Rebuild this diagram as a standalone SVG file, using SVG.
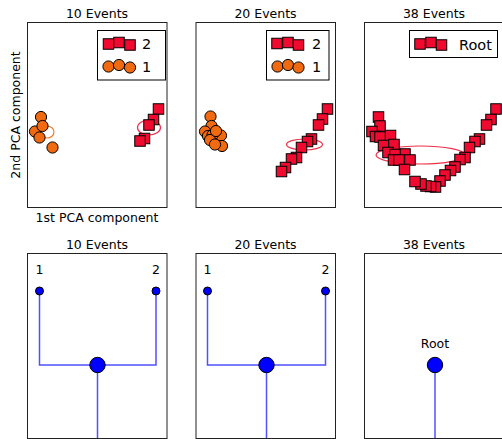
<svg xmlns="http://www.w3.org/2000/svg" xmlns:xlink="http://www.w3.org/1999/xlink" width="502" height="439" viewBox="0 0 502 439">
<style>
text{font-family:"DejaVu Sans","Liberation Sans",sans-serif;fill:#000}
.t{font-size:12.5px;text-anchor:middle}
.lg{font-size:14.5px}
.frame{fill:none;stroke:#222;stroke-width:1}
.box{fill:#fff;stroke:#000;stroke-width:1}
.sqr{fill:#f00a30;stroke:#000;stroke-width:1}
.cir{fill:#ef6a10;stroke:#000;stroke-width:1}
.eo{fill:none;stroke:#f07a2a;stroke-width:1.2}
.er{fill:none;stroke:#f0304a;stroke-width:1.2}
.edge{fill:none;stroke:#5050ff;stroke-width:1.5}
.nd{fill:#0000ff;stroke:#000;stroke-width:1}
</style>
<defs>
<rect id="sq" class="sqr" x="-5.25" y="-5.25" width="10.5" height="10.5"/>
<circle id="ci" class="cir" r="5.6"/>
</defs>
<rect width="502" height="439" fill="#fff"/>

<!-- Top row: PCA scatter panels -->
<g id="pca10">
<text class="t" x="97" y="17.5">10 Events</text>
<rect class="frame" x="27.5" y="22.5" width="139.5" height="185"/>
<ellipse class="eo" cx="47" cy="132" rx="7" ry="6"/>
<use href="#ci" x="41" y="117"/>
<use href="#ci" x="35" y="131.5"/>
<use href="#ci" x="42.5" y="126"/>
<use href="#ci" x="39.5" y="137.5"/>
<use href="#ci" x="52.5" y="147.5"/>
<ellipse class="er" cx="149" cy="127.5" rx="11.5" ry="7.5"/>
<use href="#sq" x="158.5" y="109"/>
<use href="#sq" x="153.5" y="119.5"/>
<use href="#sq" x="149" y="125"/>
<use href="#sq" x="144.5" y="138.5"/>
<use href="#sq" x="140" y="141"/>
<rect class="box" x="97.5" y="30.5" width="68" height="49.5"/>
<use href="#sq" x="108.5" y="44"/>
<use href="#sq" x="119" y="42.5"/>
<use href="#sq" x="130" y="45"/>
<text class="lg" x="142" y="49">2</text>
<use href="#ci" x="108.5" y="66.5"/>
<use href="#ci" x="119" y="65"/>
<use href="#ci" x="130" y="67.5"/>
<text class="lg" x="142" y="71.5">1</text>
<text class="t" x="97" y="222">1st PCA component</text>
<text class="t" transform="translate(20 115) rotate(-90)">2nd PCA component</text>
</g>

<g id="pca20">
<text class="t" x="265.5" y="17.5">20 Events</text>
<rect class="frame" x="196" y="22.5" width="139.5" height="185"/>
<ellipse class="eo" cx="214" cy="131" rx="7" ry="6"/>
<use href="#ci" x="210.5" y="116.5"/>
<use href="#ci" x="211.5" y="126"/>
<use href="#ci" x="205" y="131.5"/>
<use href="#ci" x="208" y="136"/>
<use href="#ci" x="221" y="135.5"/>
<use href="#ci" x="212.5" y="135"/>
<use href="#ci" x="210" y="140"/>
<use href="#ci" x="216" y="131"/>
<use href="#ci" x="222" y="146"/>
<use href="#ci" x="215" y="144.5"/>
<ellipse class="er" cx="304.5" cy="144.5" rx="18" ry="5.5"/>
<use href="#sq" x="327.5" y="109"/>
<use href="#sq" x="322.5" y="119"/>
<use href="#sq" x="318.5" y="125"/>
<use href="#sq" x="311.5" y="139"/>
<use href="#sq" x="307.5" y="141.5"/>
<use href="#sq" x="301.5" y="147.5"/>
<use href="#sq" x="296.5" y="157.5"/>
<use href="#sq" x="291.5" y="159"/>
<use href="#sq" x="285.5" y="167.5"/>
<use href="#sq" x="281.5" y="171.5"/>
<rect class="box" x="266.5" y="30.5" width="62.5" height="49.5"/>
<use href="#sq" x="277" y="43.5"/>
<use href="#sq" x="288" y="42.5"/>
<use href="#sq" x="298.5" y="45"/>
<text class="lg" x="312" y="49">2</text>
<use href="#ci" x="277.5" y="66.5"/>
<use href="#ci" x="288" y="65"/>
<use href="#ci" x="298.5" y="67.5"/>
<text class="lg" x="312" y="71.5">1</text>
</g>

<g id="pca38">
<text class="t" x="434" y="17.5">38 Events</text>
<rect class="frame" x="364.5" y="22.5" width="139.5" height="185"/>
<ellipse class="er" cx="420.5" cy="155" rx="44.5" ry="9"/>
<use href="#sq" x="496" y="109"/>
<use href="#sq" x="491" y="119.5"/>
<use href="#sq" x="486.5" y="125"/>
<use href="#sq" x="479.5" y="139"/>
<use href="#sq" x="475" y="141.5"/>
<use href="#sq" x="469.5" y="147.5"/>
<use href="#sq" x="465" y="157.5"/>
<use href="#sq" x="460" y="159.5"/>
<use href="#sq" x="455" y="167"/>
<use href="#sq" x="450.5" y="170.5"/>
<use href="#sq" x="445" y="175"/>
<use href="#sq" x="440" y="181"/>
<use href="#sq" x="378.5" y="117"/>
<use href="#sq" x="380" y="126"/>
<use href="#sq" x="372" y="131.5"/>
<use href="#sq" x="375.5" y="136.5"/>
<use href="#sq" x="390.5" y="135.5"/>
<use href="#sq" x="380" y="137"/>
<use href="#sq" x="383.5" y="145.5"/>
<use href="#sq" x="394" y="144.5"/>
<use href="#sq" x="388" y="152.5"/>
<use href="#sq" x="405" y="154"/>
<use href="#sq" x="395" y="154.5"/>
<use href="#sq" x="393.5" y="160"/>
<use href="#sq" x="399" y="160"/>
<use href="#sq" x="410" y="160"/>
<use href="#sq" x="404.5" y="169.5"/>
<use href="#sq" x="435.5" y="187"/>
<use href="#sq" x="430.5" y="186.5"/>
<use href="#sq" x="426" y="186"/>
<use href="#sq" x="421" y="184"/>
<use href="#sq" x="415" y="181.5"/>
<rect class="box" x="409.5" y="30.5" width="88" height="27"/>
<use href="#sq" x="420" y="44"/>
<use href="#sq" x="431" y="42.5"/>
<use href="#sq" x="441.5" y="45"/>
<text class="lg" x="459" y="49.5">Root</text>
</g>

<!-- Bottom row: trees -->
<g id="tree10">
<text class="t" x="97" y="248.5">10 Events</text>
<rect class="frame" x="27.5" y="253.5" width="139.5" height="185"/>
</g>
<g id="tree20">
<text class="t" x="265.5" y="248.5">20 Events</text>
<rect class="frame" x="196" y="253.5" width="139.5" height="185"/>
</g>
<g id="tree38">
<text class="t" x="434" y="248.5">38 Events</text>
<rect class="frame" x="364.5" y="253.5" width="139.5" height="185"/>
</g>

<g id="connectors">
<path class="edge" d="M39.5 291V365H156V291M97.5 365V438"/>
<path class="edge" d="M207.5 291V365H325.5V291M266.5 365V438"/>
<path class="edge" d="M435 365V438"/>
</g>

<g id="t10-leaf1"><circle class="nd" cx="39.5" cy="291" r="4"/><text class="t" x="39.5" y="273.5">1</text></g>
<g id="t10-leaf2"><circle class="nd" cx="156" cy="291" r="4"/><text class="t" x="156" y="273.5">2</text></g>
<g id="t10-root"><circle class="nd" cx="97.5" cy="365" r="7.7"/></g>
<g id="t20-leaf1"><circle class="nd" cx="207.5" cy="291" r="4"/><text class="t" x="207.5" y="273.5">1</text></g>
<g id="t20-leaf2"><circle class="nd" cx="325.5" cy="291" r="4"/><text class="t" x="325.5" y="273.5">2</text></g>
<g id="t20-root"><circle class="nd" cx="266.5" cy="365" r="7.7"/></g>
<g id="t38-root"><circle class="nd" cx="435" cy="365" r="7.7"/><text class="t" x="435" y="347.5">Root</text></g>
</svg>
